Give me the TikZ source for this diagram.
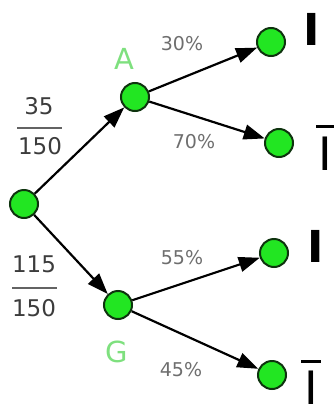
\documentclass[tikz,border=0pt]{standalone}
\usepackage{fontspec}
\setmainfont{DejaVu Sans}
\usetikzlibrary{arrows.meta}
\definecolor{nodegreen}{HTML}{22E622}
\definecolor{nodeedge}{HTML}{0E330E}
\definecolor{lblgreen}{HTML}{7EE07E}
\definecolor{pctgrey}{HTML}{6E6E6E}
\definecolor{fracgrey}{HTML}{3C3C3C}
\tikzset{
  dot/.style={circle, fill=nodegreen, draw=nodeedge, line width=2pt, minimum size=28pt, inner sep=0pt},
  branch/.style={-{Triangle[length=21pt,width=15pt]}, line width=2.2pt, black},
  pct/.style={text=pctgrey, font=\fontsize{19}{19}\selectfont, inner sep=0pt},
  evt/.style={text=lblgreen, font=\fontsize{29}{29}\selectfont, inner sep=0pt},
  outc/.style={font=\fontsize{44}{44}\selectfont\bfseries, inner sep=0pt, text height=32pt, text depth=0pt},
  outcb/.style={font=\fontsize{46}{46}\selectfont, inner sep=0pt, text height=33pt, text depth=0pt},
  bar/.style={line width=2.8pt, black},
  fracnum/.style={text=fracgrey, font=\fontsize{23}{23}\selectfont, inner sep=0pt},
  fracline/.style={line width=2pt, fracgrey!80}
}
\begin{document}
\begin{tikzpicture}[x=1pt,y=-1pt]
\useasboundingbox (0,0) rectangle (336,407);
\node[dot] (r) at (24,204) {};
\node[dot] (a) at (135,97) {};
\node[dot] (g) at (118,305) {};
\node[dot] (ai) at (271,42) {};
\node[dot] (ab) at (279,143) {};
\node[dot] (gi) at (274,253) {};
\node[dot] (gb) at (272,375) {};
\draw[branch] (r) -- (a);
\draw[branch] (r) -- (g);
\draw[branch] (a) -- (ai);
\draw[branch] (a) -- (ab);
\draw[branch] (g) -- (gi);
\draw[branch] (g) -- (gb);
\node[evt] (la) at (124,59) {A};
\node[evt] (lg) at (117,352) {G};
\node[pct] (p30) at (182,44) {30\%};
\node[pct] (p70) at (194,142) {70\%};
\node[pct] (p55) at (182,258) {55\%};
\node[pct] (p45) at (181,370) {45\%};
\node[fracnum] (n1) at (39,106) {35};
\node[fracnum] (d1) at (40,146) {150};
\coordinate (l1a) at (17,128);
\coordinate (l1b) at (62,128);
\draw[fracline] (l1a) -- (l1b);
\node[fracnum] (n2) at (34,264) {115};
\node[fracnum] (d2) at (34,308) {150};
\coordinate (l2a) at (12,288);
\coordinate (l2b) at (57,288);
\draw[fracline] (l2a) -- (l2b);
\node[outc] (o1) at (312,29) {I};
\node[outcb] (o2) at (325,154) {I};
\node[outc] (o3) at (316,246) {I};
\node[outcb] (o4) at (311,388) {I};
\draw[bar] ([xshift=-9pt,yshift=11pt]o2.north) -- ([xshift=9pt,yshift=11pt]o2.north);
\draw[bar] ([xshift=-10pt,yshift=10pt]o4.north) -- ([xshift=10pt,yshift=10pt]o4.north);
\end{tikzpicture}
\end{document}
